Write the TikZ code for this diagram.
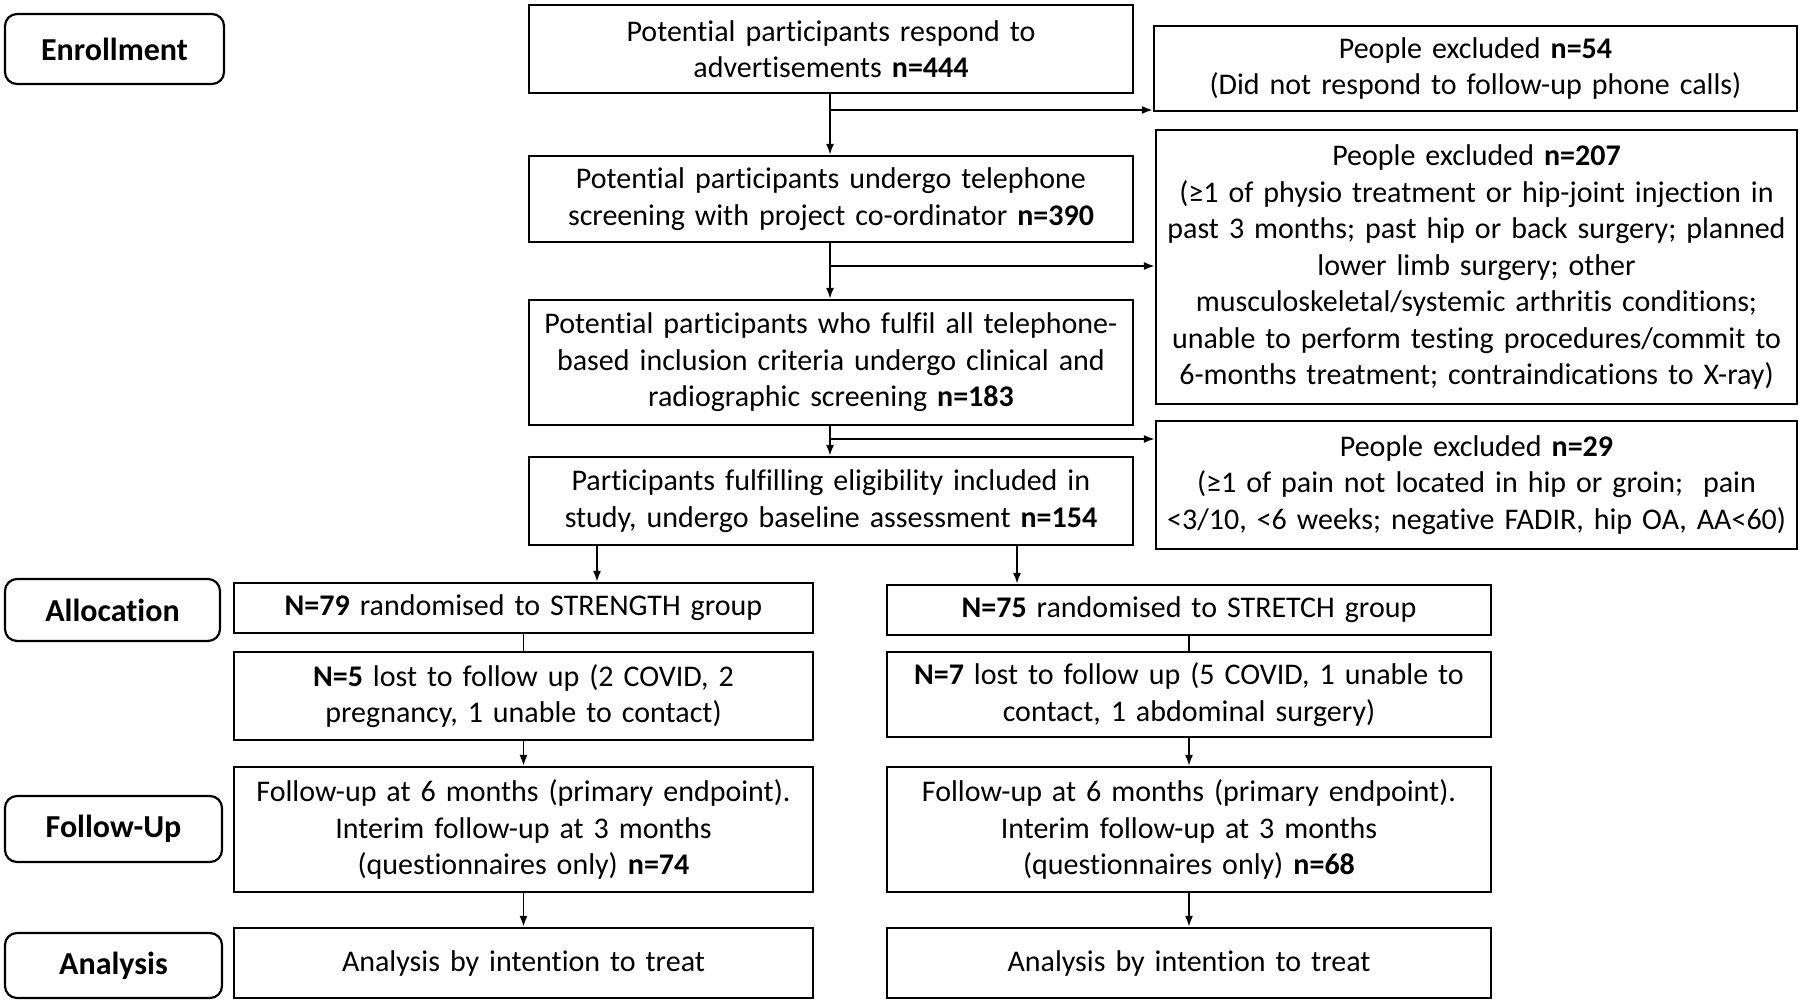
\documentclass[tikz,border=0pt]{standalone}
\usepackage{fontspec}
\setmainfont{Carlito}[Ligatures=NoCommon,Contextuals=NoAlternate]
\usetikzlibrary{arrows.meta}
\begin{document}
\begin{tikzpicture}[x=1pt,y=-1pt,
  every node/.style={font=\fontsize{30}{36.5}\selectfont},
  box/.style={draw, line width=2.2pt, inner xsep=8pt, inner ysep=0pt, align=center},
  lbl/.style={draw, line width=2.2pt, rounded corners=12pt, inner sep=0pt, align=center, font=\fontsize{32}{38}\selectfont\bfseries},
  con/.style={line width=1.8pt},
  arr/.style={line width=1.8pt, -{Latex[length=11pt,width=8pt]}}
]
\useasboundingbox (0,0) rectangle (1800,1002);
\fill[white] (0,0) rectangle (1800,1002);

% stage labels
\node[lbl, minimum width=219pt, minimum height=70pt] (enr) at (114.5,49) {Enrollment};
\node[lbl, minimum width=215pt, minimum height=62pt] (alloc) at (112.5,610) {Allocation};
\node[lbl, minimum width=217pt, minimum height=66pt] (fu) at (113.5,829) {Follow-Up};
\node[lbl, minimum width=217pt, minimum height=65pt] (an) at (113.5,965.5) {Analysis};

% enrollment column
\node[box, minimum width=604pt, text width=588pt, minimum height=88pt] (b1) at (831,49)
  {Potential participants respond to\\advertisements \textbf{n=444}};
\node[box, minimum width=604pt, text width=588pt, minimum height=86pt] (b2) at (831,199)
  {Potential participants undergo telephone\\screening with project co-ordinator \textbf{n=390}};
\node[box, minimum width=604pt, text width=588pt, minimum height=125pt] (b3) at (831,362.5)
  {Potential participants who fulfil all telephone-\\based inclusion criteria undergo clinical and\\radiographic screening \textbf{n=183}};
\node[box, minimum width=604pt, text width=588pt, minimum height=88pt] (b4) at (831,501)
  {Participants fulfilling eligibility included in\\study, undergo baseline assessment \textbf{n=154}};

% exclusions
\node[box, minimum width=643pt, text width=627pt, minimum height=85pt] (e1) at (1475.5,68.5)
  {People excluded \textbf{n=54}\\(Did not respond to follow-up phone calls)};
\node[box, minimum width=641pt, text width=625pt, minimum height=274pt] (e2) at (1476.5,267)
  {People excluded \textbf{n=207}\\(≥1 of physio treatment or hip-joint injection in\\past 3 months; past hip or back surgery; planned\\lower limb surgery; other\\musculoskeletal/systemic arthritis conditions;\\unable to perform testing procedures/commit to\\6-months treatment; contraindications to X-ray)};
\node[box, minimum width=641pt, text width=625pt, minimum height=128pt] (e3) at (1476.5,485)
  {People excluded \textbf{n=29}\\(≥1 of pain not located in hip or groin;\ \ pain\\<3/10, <6 weeks; negative FADIR, hip OA, AA<60)};

% strength arm
\node[box, minimum width=579pt, text width=563pt, minimum height=50pt] (s1) at (523.5,608)
  {\textbf{N=79} randomised to STRENGTH group};
\node[box, minimum width=579pt, text width=563pt, minimum height=88pt] (s2) at (523.5,696)
  {\textbf{N=5} lost to follow up (2 COVID, 2\\pregnancy, 1 unable to contact)};
\node[box, minimum width=579pt, text width=563pt, minimum height=125pt] (s3) at (523.5,829.5)
  {Follow-up at 6 months (primary endpoint).\\Interim follow-up at 3 months\\(questionnaires only) \textbf{n=74}};
\node[box, minimum width=579pt, text width=563pt, minimum height=70pt] (s4) at (523.5,963)
  {Analysis by intention to treat};

% stretch arm
\node[box, minimum width=604pt, text width=588pt, minimum height=50pt] (t1) at (1189,610)
  {\textbf{N=75} randomised to STRETCH group};
\node[box, minimum width=604pt, text width=588pt, minimum height=85pt] (t2) at (1189,694.5)
  {\textbf{N=7} lost to follow up (5 COVID, 1 unable to\\contact, 1 abdominal surgery)};
\node[box, minimum width=604pt, text width=588pt, minimum height=125pt] (t3) at (1189,829.5)
  {Follow-up at 6 months (primary endpoint).\\Interim follow-up at 3 months\\(questionnaires only) \textbf{n=68}};
\node[box, minimum width=604pt, text width=588pt, minimum height=70pt] (t4) at (1189,963)
  {Analysis by intention to treat};

% branch coordinates
\coordinate (j1) at (830,110);
\coordinate (j2) at (830,266);
\coordinate (j3) at (830,439);

% main flow
\draw[arr] (b1.south -| j1) -- (b2.north -| j1);
\draw[arr] (b2.south -| j2) -- (b3.north -| j2);
\draw[arr] (b3.south -| j3) -- (b4.north -| j3);
\draw[arr] (j1) -- (j1 -| e1.west);
\draw[arr] (j2) -- (j2 -| e2.west);
\draw[arr] (j3) -- (j3 -| e3.west);

% split
\draw[arr] (b4.south -| 597,0) -- (s1.north -| 597,0);
\draw[arr] (b4.south -| 1017,0) -- (t1.north -| 1017,0);

% arms
\draw[con] (s1) -- (s2);
\draw[arr] (s2) -- (s3);
\draw[arr] (s3) -- (s4);
\draw[con] (t1) -- (t2);
\draw[arr] (t2) -- (t3);
\draw[arr] (t3) -- (t4);
\end{tikzpicture}
\end{document}
